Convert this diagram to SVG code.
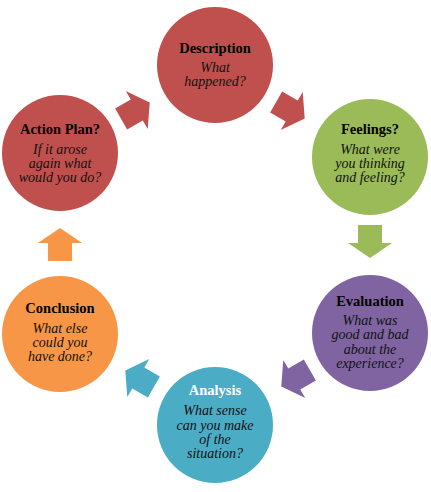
<svg xmlns="http://www.w3.org/2000/svg" width="431" height="492" viewBox="0 0 431 492">
<style>
.t{font-family:"Liberation Serif","DejaVu Serif",serif;font-weight:bold;font-size:14.5px;fill:#000;text-anchor:middle}
.b{font-family:"Liberation Serif","DejaVu Serif",serif;font-style:italic;font-size:14px;fill:#111;text-anchor:middle}
.red{fill:#C0504D}.green{fill:#9BBB59}.purple{fill:#8064A2}.blue{fill:#4BACC6}.orange{fill:#F79646}
</style>
<defs>
<polygon id="arr" points="-16,-12 2,-12 2,-22 17,0 2,22 2,12 -16,12"/>
</defs>
<rect width="431" height="492" fill="#fff"/>
<g id="connectors">
<use href="#arr" class="red" transform="translate(135,111) rotate(-30)"/>
<use href="#arr" class="red" transform="translate(290,110) rotate(30)"/>
<use href="#arr" class="green" transform="translate(370,241) rotate(90)"/>
<use href="#arr" class="purple" transform="translate(296,378) rotate(150)"/>
<use href="#arr" class="blue" transform="translate(140,379) rotate(210)"/>
<use href="#arr" class="orange" transform="translate(60,245) rotate(270)"/>
</g>
<g id="description">
<circle cx="215" cy="65" r="58" class="red"/>
<text class="t" x="215" y="53">Description</text>
<text class="b" x="215" y="72">What</text>
<text class="b" x="215" y="86">happened?</text>
</g>
<g id="feelings">
<circle cx="370" cy="157" r="58" class="green"/>
<text class="t" x="370" y="134">Feelings?</text>
<text class="b" x="370" y="154">What were</text>
<text class="b" x="370" y="168">you thinking</text>
<text class="b" x="370" y="182">and feeling?</text>
</g>
<g id="evaluation">
<circle cx="370" cy="333" r="58" class="purple"/>
<text class="t" x="370" y="306">Evaluation</text>
<text class="b" x="370" y="325">What was</text>
<text class="b" x="370" y="339">good and bad</text>
<text class="b" x="370" y="354">about the</text>
<text class="b" x="370" y="368">experience?</text>
</g>
<g id="analysis">
<circle cx="215" cy="425" r="58" class="blue"/>
<text class="t" x="215" y="395" style="fill:#fff">Analysis</text>
<text class="b" x="215" y="415">What sense</text>
<text class="b" x="215" y="430">can you make</text>
<text class="b" x="215" y="444">of the</text>
<text class="b" x="215" y="458">situation?</text>
</g>
<g id="conclusion">
<circle cx="60" cy="334" r="58" class="orange"/>
<text class="t" x="60" y="313">Conclusion</text>
<text class="b" x="60" y="333">What else</text>
<text class="b" x="60" y="347">could you</text>
<text class="b" x="60" y="361">have done?</text>
</g>
<g id="action-plan">
<circle cx="60" cy="153" r="58" class="red"/>
<text class="t" x="60" y="134">Action Plan?</text>
<text class="b" x="60" y="154">If it arose</text>
<text class="b" x="60" y="168">again what</text>
<text class="b" x="60" y="182">would you do?</text>
</g>
</svg>
